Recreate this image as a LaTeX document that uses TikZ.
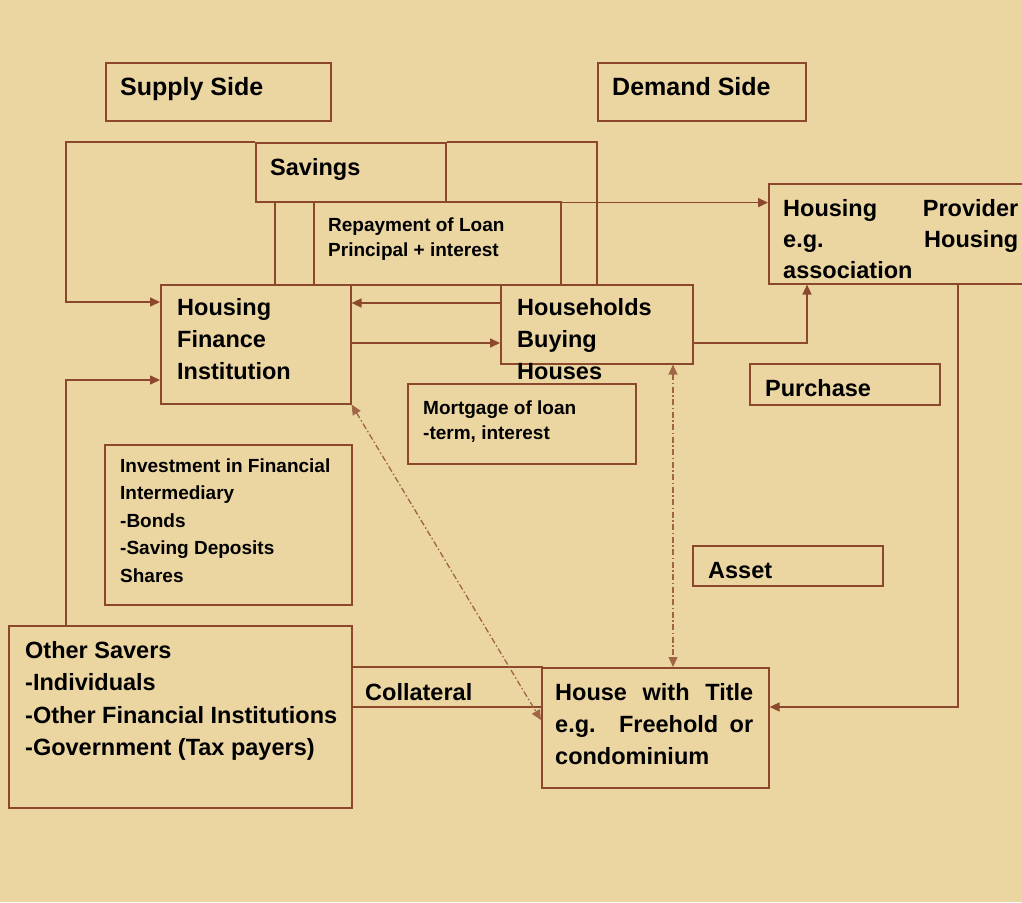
\documentclass[tikz,border=0pt]{standalone}
\usepackage{fontspec}
\setmainfont{Liberation Sans}
\usetikzlibrary{arrows.meta,calc}
\definecolor{paper}{RGB}{235,214,162}
\definecolor{lc}{RGB}{140,72,45}
\definecolor{dc}{RGB}{160,100,70}
\tikzset{
 box/.style={draw=lc, line width=1.6pt, inner sep=0pt, anchor=north west},
 ttl/.style={anchor=base west, inner sep=0pt, align=left, font=\fontsize{25}{32}\selectfont\bfseries},
 txt/.style={anchor=base west, inner sep=0pt, align=left, font=\fontsize{23.5}{32}\selectfont\bfseries},
 stxt/.style={anchor=base west, inner sep=0pt, align=left, font=\fontsize{19}{25}\selectfont\bfseries},
 itxt/.style={anchor=base west, inner sep=0pt, align=left, font=\fontsize{19}{27.5}\selectfont\bfseries},
 ln/.style={draw=lc, line width=1.6pt},
 arr/.style={ln, -{Triangle[length=10pt,width=9pt]}},
 darr/.style={draw=dc, line width=1.3pt, dash pattern=on 6pt off 2.5pt on 1.5pt off 2.5pt,
   {Triangle[length=10pt,width=9pt]}-{Triangle[length=10pt,width=9pt]}},
}
\begin{document}
\begin{tikzpicture}[x=1pt,y=-1pt]
\fill[paper] (0,0) rectangle (1022,902);
\useasboundingbox (0,0) rectangle (1022,902);

% boxes
\node[box, minimum width=225pt, minimum height=58pt] (supply) at (105,62) {};
\node[box, minimum width=208pt, minimum height=58pt] (demand) at (597,62) {};
\node[box, minimum width=190pt, minimum height=59pt] (sav) at (255,142) {};
\node[box, minimum width=247pt, minimum height=83pt] (rep) at (313,201) {};
\node[box, minimum width=190pt, minimum height=119pt] (hfi) at (160,284) {};
\node[box, minimum width=192pt, minimum height=79pt] (hbh) at (500,284) {};
\node[box, minimum width=262pt, minimum height=100pt] (hp) at (768,183) {};
\node[box, minimum width=228pt, minimum height=80pt] (mort) at (407,383) {};
\node[box, minimum width=190pt, minimum height=41pt] (purch) at (749,363) {};
\node[box, minimum width=247pt, minimum height=160pt] (inv) at (104,444) {};
\node[box, minimum width=190pt, minimum height=40pt] (asset) at (692,545) {};
\node[box, minimum width=343pt, minimum height=182pt] (os) at (8,625) {};
\node[box, minimum width=190pt, minimum height=40pt] (col) at (351,666) {};
\node[box, minimum width=227pt, minimum height=120pt] (hwt) at (541,667) {};

% texts (multi-line nodes: base = baseline of last line)
\node[ttl] (tsupply) at (120,95) {Supply Side};
\node[ttl] (tdemand) at (612,95) {Demand Side};
\node[txt] (tsav) at (270,175) {Savings};
\node[stxt] (trep) at (328,256.5) {Repayment of Loan\\Principal + interest};
\node[txt] (thfi) at (177,379.5) {Housing\\Finance\\Institution};
\node[txt] (thbh) at (517,379.5) {Households\\Buying\\Houses};
\node[txt, font=\fontsize{23.5}{31}\selectfont\bfseries] (thp) at (783,278.5)
  {\makebox[235pt][s]{Housing Provider}\\\makebox[235pt][s]{e.g. Housing}\\association};
\node[stxt] (tmort) at (423,439) {Mortgage of loan\\-term, interest};
\node[txt] (tpurch) at (765,396.5) {Purchase};
\node[itxt] (tinv) at (120,582) {Investment in Financial\\Intermediary\\-Bonds\\-Saving Deposits\\Shares};
\node[txt] (tasset) at (708,578.5) {Asset};
\node[txt, font=\fontsize{23.5}{32.3}\selectfont\bfseries] (tos) at (25,755.5)
  {Other Savers\\-Individuals\\-Other Financial Institutions\\-Government (Tax payers)};
\node[txt] (tcol) at (365,700) {Collateral};
\node[txt] (thwt) at (555,764.5)
  {\makebox[198pt][s]{House with Title}\\\makebox[198pt][s]{e.g. Freehold or}\\condominium};

% connectors
\coordinate (tl) at (66,142);
\coordinate (tr) at (597,142);
\draw[arr] (sav.north west) -- (tl) |- (hfi.west |- 0,302);
\draw[ln] (sav.north east) -- (tr) -- (tr |- hbh.north);
\draw[arr] (sav.south west) -- (hp.west |- sav.south);
\draw[ln] (sav.south -| 275,0) -- (hfi.north -| 275,0);
\draw[arr] (hbh.west |- 0,303) -- (hfi.east |- 0,303);
\draw[arr] (hfi.east |- 0,343) -- (hbh.west |- 0,343);
\draw[arr] (hbh.east |- 0,343) -| (hp.south -| 807,0);
\draw[arr] (hp.south -| 958,0) |- (hwt.east |- 0,707);
\draw[arr] (os.north -| 66,0) |- (hfi.west |- 0,380);
\draw[darr] (hfi.south east) -- (hwt.west |- 0,720);
\draw[darr] (hbh.south -| 673,0) -- (hwt.north -| 673,0);
\end{tikzpicture}
\end{document}
